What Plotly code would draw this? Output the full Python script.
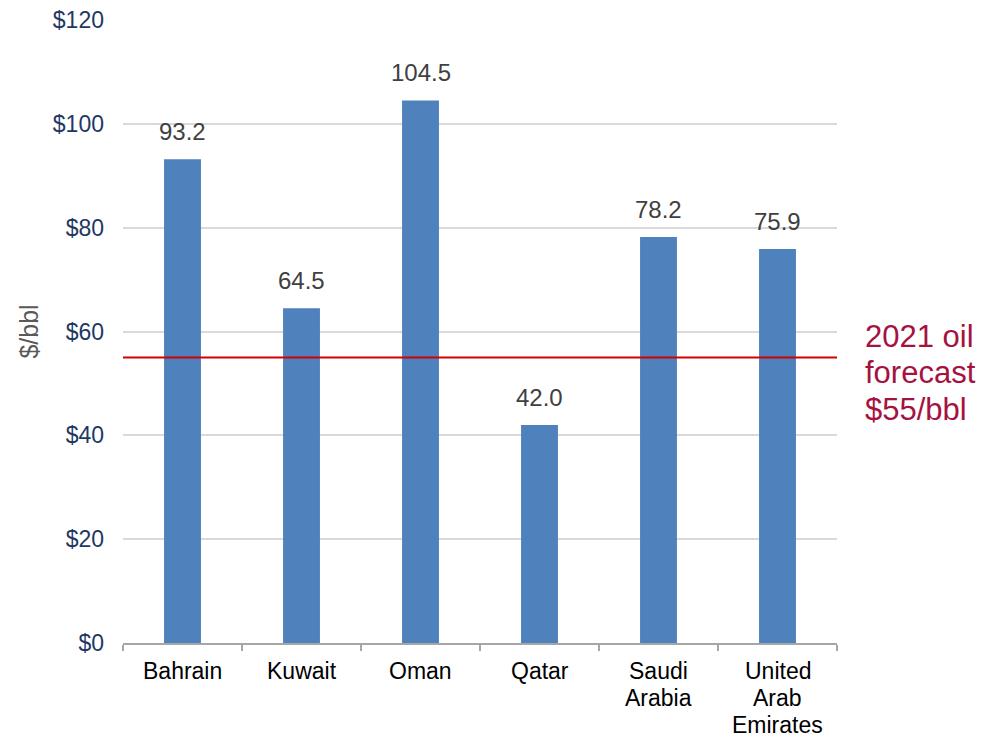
import plotly.graph_objects as go

# Fiscal breakeven oil prices by country ($/bbl)
countries = ["Bahrain", "Kuwait", "Oman", "Qatar", "Saudi Arabia", "United Arab Emirates"]
breakeven = [93.2, 64.5, 104.5, 42.0, 78.2, 75.9]

# category labels, one entry per printed line
label_lines = [["Bahrain"], ["Kuwait"], ["Oman"], ["Qatar"],
               ["Saudi", "Arabia"], ["United", "Arab", "Emirates"]]

forecast_price = 55
forecast_lines = ["2021 oil", "forecast", "$55/bbl"]

y_ticks = [0, 20, 40, 60, 80, 100, 120]
y_tick_text = [f"${v}" for v in y_ticks]

FONT = "Liberation Sans, Arial, sans-serif"
BAR_BLUE = "#4F81BD"
LINE_RED = "#D40000"
NOTE_RED = "#A6123F"

fig = go.Figure()

fig.add_trace(go.Bar(
    x=countries,
    y=breakeven,
    marker=dict(color=BAR_BLUE, line=dict(width=0)),
    hoverinfo="x+y",
    showlegend=False,
))

# value labels above each bar
for c, v in zip(countries, breakeven):
    fig.add_annotation(
        x=c, y=v, xref="x", yref="y",
        text=f"{v:.1f}",
        showarrow=False,
        yanchor="bottom",
        yshift=12,
        font=dict(family=FONT, size=24, color="#404040"),
    )

# category labels under the axis, tighter line spacing than tick labels allow
for c, lines in zip(countries, label_lines):
    for i, line in enumerate(lines):
        fig.add_annotation(
            x=c, y=0, xref="x", yref="paper",
            text=line,
            showarrow=False,
            yanchor="middle",
            yshift=-(28 + 27 * i),
            font=dict(family=FONT, size=23, color="#000000"),
        )

# forecast reference line
fig.add_shape(
    type="line", xref="paper", yref="y",
    x0=0, x1=1, y0=forecast_price, y1=forecast_price,
    line=dict(color=LINE_RED, width=2),
)

# forecast note to the right of the plot
for i, line in enumerate(forecast_lines):
    fig.add_annotation(
        xref="paper", yref="paper",
        x=1.036, y=0.492,
        xanchor="left", yanchor="middle",
        yshift=-36.5 * i,
        text=line,
        showarrow=False,
        font=dict(family=FONT, size=31, color=NOTE_RED),
    )

fig.update_layout(
    width=984,
    height=738,
    margin=dict(l=123, r=147, t=20, b=95),
    paper_bgcolor="white",
    plot_bgcolor="white",
    bargap=0.69,
    font=dict(family=FONT),
    xaxis=dict(
        automargin=False,
        showline=True,
        linecolor="#A6A6A6",
        linewidth=1.5,
        ticks="outside",
        tickson="boundaries",
        ticklen=6,
        tickcolor="#A6A6A6",
        tickwidth=1.5,
        showticklabels=False,
        showgrid=False,
    ),
    yaxis=dict(
        automargin=False,
        range=[0, 120],
        tickvals=y_ticks,
        ticktext=y_tick_text,
        showgrid=True,
        gridcolor="#D9D9D9",
        gridwidth=1.5,
        zeroline=False,
        showline=False,
        ticks="",
        ticklabelstandoff=18,
        tickfont=dict(family=FONT, size=23, color="#1F3864"),
        title=dict(
            text="$/bbl",
            font=dict(family=FONT, size=25, color="#595959"),
            standoff=7,
        ),
    ),
)

fig.write_html("out.html")
